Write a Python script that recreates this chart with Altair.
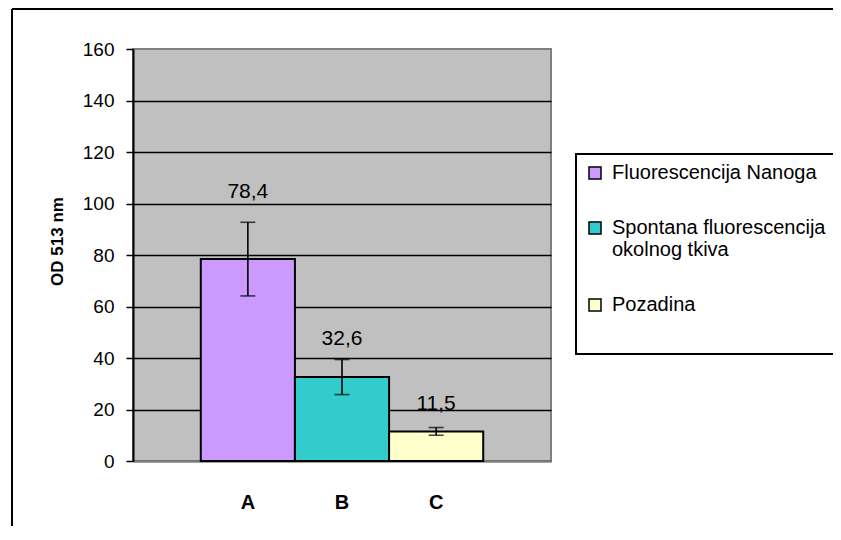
import altair as alt
import pandas as pd

categories = ["A", "B", "C"]
series = ["Fluorescencija Nanoga", "Spontana fluorescencija|okolnog tkiva", "Pozadina"]
values = [78.4, 32.6, 11.5]
errors = [14.3, 6.8, 1.5]
value_labels = ["78,4", "32,6", "11,5"]
label_anchor = [104.6, 47.3, 22.0]
colors = ["#CC99FF", "#33CCCC", "#FFFFCC"]
y_ticks = [0, 20, 40, 60, 80, 100, 120, 140, 160]

df = pd.DataFrame({
    "category": categories,
    "series": series,
    "value": values,
    "err": errors,
    "label": value_labels,
    "anchor": label_anchor,
})
df["lo"] = df["value"] - df["err"]
df["hi"] = df["value"] + df["err"]

FONT = "Liberation Sans"

x_axis = alt.Axis(title=None, labelAngle=0, labelFontWeight="bold", labelFontSize=20,
                  labelFont=FONT, labelColor="black", labelPadding=31, ticks=False,
                  domainColor="#808080", domainWidth=2, grid=False)
x_scale = alt.Scale(domain=categories, paddingInner=0, paddingOuter=0.72)

y_axis = alt.Axis(values=y_ticks, title="OD 513 nm", titleFontSize=17, titleFontWeight="bold",
                  titleFont=FONT, titleColor="black", titlePadding=16, titleY=192,
                  labelFontSize=19, labelFont=FONT, labelColor="black", labelPadding=12,
                  tickColor="black", tickSize=7, tickWidth=1.5,
                  domainColor="black", domainWidth=2, grid=True,
                  gridColor={"condition": {"test": "datum.value >= 160", "value": "transparent"},
                             "value": "black"},
                  gridWidth=1.6)
y_scale = alt.Scale(domain=[0, 160], nice=False)


def X():
    return alt.X("category:N", scale=x_scale, axis=x_axis)


def Y(field):
    return alt.Y(field, scale=y_scale, axis=y_axis)


base = alt.Chart(df)

bars = base.mark_bar(stroke="black", strokeWidth=2, opacity=1).encode(
    x=X(),
    y=Y("value:Q"),
    fill=alt.Fill("series:N", scale=alt.Scale(domain=series, range=colors),
                  legend=alt.Legend(title=" ", titleOrient="bottom", titleFontSize=14,
                                    titlePadding=16,
                                    orient="none", legendX=443, legendY=105,
                                    direction="vertical", symbolType="square", symbolSize=144,
                                    symbolStrokeColor="black", symbolStrokeWidth=1.5,
                                    labelFont=FONT, labelFontSize=20, labelColor="black",
                                    labelLimit=600, labelOffset=7,
                                    labelExpr="split(datum.label + '        ', '|')",
                                    padding=9, rowPadding=35, strokeColor="black",
                                    fillColor="white")),
)

err_rule = base.mark_rule(color="black", strokeWidth=1.6).encode(
    x=X(), y=Y("lo:Q"), y2="hi:Q"
)
cap_lo = base.mark_tick(color="black", thickness=1.6, size=15).encode(x=X(), y=Y("lo:Q"))
cap_hi = base.mark_tick(color="black", thickness=1.6, size=15).encode(x=X(), y=Y("hi:Q"))

labels = base.mark_text(font=FONT, fontSize=21, color="black", baseline="middle").encode(
    x=X(), y=Y("anchor:Q"), text="label:N"
)

frame = alt.Data(values=[{"b": 1}])
border_top = alt.Chart(frame).mark_rule(color="black", strokeWidth=2).encode(
    x=alt.value(-121), x2=alt.value(900), y=alt.value(-40)
)
border_left = alt.Chart(frame).mark_rule(color="black", strokeWidth=2).encode(
    x=alt.value(-121), y=alt.value(-40), y2=alt.value(600)
)

chart = alt.layer(bars, err_rule, cap_lo, cap_hi, labels, border_top, border_left).properties(
    width=418,
    height=412,
    padding={"left": 125, "top": 41, "right": 282, "bottom": 65},
    autosize="none",
    background="white",
).configure_view(
    fill="#C0C0C0", stroke="#808080", strokeWidth=2
).configure_legend(strokeWidth=2)

chart.save("out.html", embed_options={"renderer": "svg", "actions": False})
